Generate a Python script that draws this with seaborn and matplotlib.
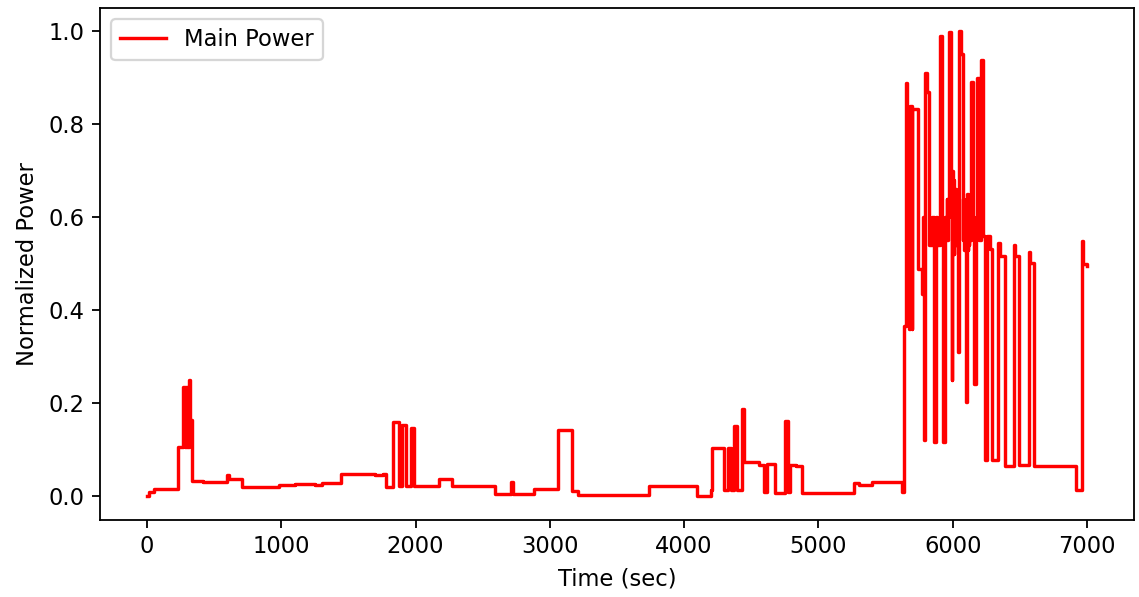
import matplotlib
matplotlib.use("Agg")
import matplotlib.pyplot as plt
import seaborn as sns
import pandas as pd

# Change points of the step signal: time (sec) and normalized power level held from that time on
time_sec = [
    0, 15, 50, 233, 268, 280, 290, 300, 312, 322, 338, 420, 596, 610, 708,
    983, 1100, 1250, 1300, 1442, 1700, 1760, 1777, 1832, 1877, 1897, 1927,
    1966, 1988, 2175, 2272, 2592, 2710, 2722, 2882, 3063, 3167, 3212, 3738,
    4098, 4197, 4210, 4297, 4330, 4350, 4372, 4395, 4433, 4445, 4558, 4595,
    4617, 4674, 4751, 4770, 4786, 4830, 4880, 5265, 5300, 5400, 5625,
    5637, 5652, 5663, 5671, 5678, 5693, 5700, 5742, 5771, 5779, 5786, 5794,
    5812, 5820, 5846, 5861, 5872, 5883, 5905, 5920, 5928, 5939, 5950, 5955,
    5960, 5965, 5972, 5987, 5991, 5998, 6000, 6004, 6008, 6013, 6016, 6020,
    6024, 6028, 6032, 6039, 6047, 6062, 6073, 6076, 6080, 6084, 6097, 6106,
    6110, 6114, 6118, 6121, 6134, 6151, 6159, 6170, 6183, 6196, 6209, 6222,
    6226, 6241, 6255, 6278, 6293, 6334, 6349, 6390, 6453, 6464, 6494, 6568,
    6579, 6605, 6750, 6780, 6921, 6961, 6970, 7000,
]
power = [
    0.0, 0.01, 0.015, 0.105, 0.235, 0.105, 0.235, 0.105, 0.25, 0.163, 0.033,
    0.03, 0.045, 0.037, 0.02, 0.025, 0.027, 0.024, 0.028, 0.047, 0.045, 0.047,
    0.02, 0.16, 0.021, 0.154, 0.021, 0.146, 0.021, 0.037, 0.023, 0.004, 0.03,
    0.004, 0.016, 0.143, 0.011, 0.003, 0.021, 0.0015, 0.0125, 0.104, 0.014,
    0.104, 0.014, 0.151, 0.014, 0.187, 0.074, 0.068, 0.009, 0.069, 0.006,
    0.161, 0.009, 0.068, 0.065, 0.006, 0.028, 0.025, 0.03, 0.009,
    0.367, 0.888, 0.835, 0.36, 0.84, 0.36, 0.832, 0.488, 0.435, 0.6, 0.12,
    0.91, 0.87, 0.54, 0.6, 0.117, 0.6, 0.54, 0.99, 0.59, 0.117, 0.6, 0.56,
    0.64, 0.55, 0.6, 0.998, 0.66, 0.249, 0.7, 0.55, 0.68, 0.52, 0.56, 0.64,
    0.66, 0.54, 0.62, 0.55, 0.31, 1.0, 0.952, 0.6, 0.55, 0.64, 0.53, 0.203,
    0.65, 0.53, 0.62, 0.54, 0.55, 0.891, 0.6, 0.242, 0.56, 0.899, 0.55, 0.938,
    0.886, 0.56, 0.078, 0.56, 0.532, 0.078, 0.544, 0.517, 0.064, 0.54, 0.516,
    0.068, 0.525, 0.502, 0.064, 0.066, 0.064, 0.0135, 0.549, 0.5, 0.495,
]

df = pd.DataFrame({"Time (sec)": time_sec, "Normalized Power": power})

fig = plt.figure(figsize=(6.988, 3.663), dpi=163)
ax = fig.add_axes([0.0878, 0.1298, 0.9078, 0.8568])

sns.lineplot(data=df, x="Time (sec)", y="Normalized Power", ax=ax,
             color="red", estimator=None, sort=False,
             drawstyle="steps-post", label="Main Power")

ax.set_xlabel("Time (sec)")
ax.set_ylabel("Normalized Power")
ax.legend(loc="upper left")

fig.savefig("out.png", dpi=163)
